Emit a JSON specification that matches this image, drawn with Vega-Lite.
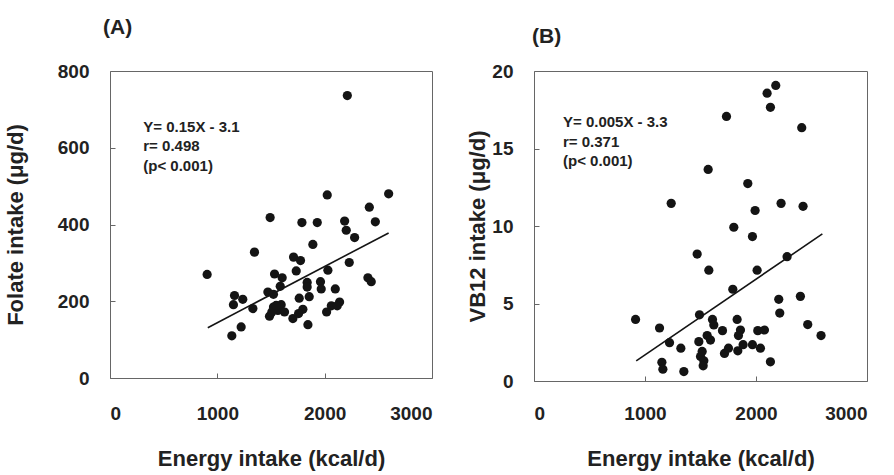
{
  "$schema": "https://vega.github.io/schema/vega-lite/v6.json",
  "background": "white",
  "padding": {"left": 3, "top": 16, "right": 3, "bottom": 2},
  "bounds": "flush",
  "spacing": 102,
  "config": {
    "font": "Liberation Sans",
    "view": {"stroke": "#666", "strokeWidth": 1},
    "axis": {
      "grid": false,
      "domain": false,
      "ticks": true,
      "tickSize": -5,
      "tickColor": "#666",
      "format": "d",
      "labelFont": "Liberation Sans",
      "labelFontWeight": "bold",
      "labelFontSize": 19,
      "labelColor": "#222",
      "titleFont": "Liberation Sans",
      "titleFontWeight": "bold",
      "titleFontSize": 22,
      "titleColor": "#222"
    },
    "title": {"font": "Liberation Sans", "fontWeight": "bold", "fontSize": 21, "color": "#222", "anchor": "start", "baseline": "bottom", "frame": "group"}
  },
  "datasets": {
    "a": [
      {"x": 905, "y": 270}, {"x": 2211, "y": 736}, {"x": 2024, "y": 477}, {"x": 2596, "y": 480},
      {"x": 2416, "y": 445}, {"x": 2472, "y": 407}, {"x": 1492, "y": 418}, {"x": 1788, "y": 405},
      {"x": 1931, "y": 405}, {"x": 2186, "y": 409}, {"x": 2201, "y": 385}, {"x": 2279, "y": 366},
      {"x": 1890, "y": 348}, {"x": 1346, "y": 328}, {"x": 1710, "y": 315}, {"x": 1775, "y": 306},
      {"x": 2229, "y": 301}, {"x": 1735, "y": 279}, {"x": 2030, "y": 281}, {"x": 1533, "y": 271},
      {"x": 1604, "y": 261}, {"x": 1837, "y": 249}, {"x": 1961, "y": 251}, {"x": 2403, "y": 261},
      {"x": 2434, "y": 251}, {"x": 1586, "y": 239}, {"x": 1837, "y": 237}, {"x": 1968, "y": 232},
      {"x": 2099, "y": 232}, {"x": 1471, "y": 224}, {"x": 1523, "y": 218}, {"x": 1160, "y": 215},
      {"x": 1237, "y": 205}, {"x": 1150, "y": 191}, {"x": 1763, "y": 208}, {"x": 1856, "y": 212},
      {"x": 1331, "y": 181}, {"x": 1523, "y": 185}, {"x": 1595, "y": 191}, {"x": 1564, "y": 176},
      {"x": 1626, "y": 172}, {"x": 1486, "y": 161}, {"x": 1704, "y": 155}, {"x": 1797, "y": 179},
      {"x": 1757, "y": 168}, {"x": 2062, "y": 188}, {"x": 2139, "y": 198}, {"x": 2117, "y": 188},
      {"x": 2018, "y": 172}, {"x": 1844, "y": 139}, {"x": 1222, "y": 133}, {"x": 1135, "y": 110},
      {"x": 1508, "y": 172}, {"x": 1548, "y": 189}
    ],
    "a_line": [{"x": 911, "y": 131}, {"x": 2596, "y": 378}],
    "a_text": [
      {"x": 310, "y": 655, "label": "Y= 0.15X - 3.1"},
      {"x": 310, "y": 605, "label": "r= 0.498"},
      {"x": 310, "y": 553, "label": "(p< 0.001)"}
    ],
    "b": [
      {"x": 915, "y": 3.97}, {"x": 1131, "y": 3.42}, {"x": 1152, "y": 1.21}, {"x": 1161, "y": 0.76},
      {"x": 1221, "y": 2.47}, {"x": 1236, "y": 11.46}, {"x": 1323, "y": 2.12}, {"x": 1350, "y": 0.61},
      {"x": 1470, "y": 8.19}, {"x": 1491, "y": 4.27}, {"x": 1485, "y": 2.54}, {"x": 1500, "y": 1.58},
      {"x": 1515, "y": 1.91}, {"x": 1530, "y": 1.30}, {"x": 1524, "y": 0.98}, {"x": 1560, "y": 2.93},
      {"x": 1575, "y": 7.15}, {"x": 1569, "y": 13.65}, {"x": 1590, "y": 2.64}, {"x": 1608, "y": 3.97},
      {"x": 1620, "y": 3.62}, {"x": 1698, "y": 3.25}, {"x": 1716, "y": 1.78}, {"x": 1752, "y": 2.12},
      {"x": 1734, "y": 17.07}, {"x": 1791, "y": 5.92}, {"x": 1800, "y": 9.92}, {"x": 1830, "y": 3.97},
      {"x": 1860, "y": 3.29}, {"x": 1842, "y": 2.93}, {"x": 1836, "y": 1.95}, {"x": 1884, "y": 2.34},
      {"x": 1926, "y": 12.74}, {"x": 1968, "y": 9.32}, {"x": 1968, "y": 2.34}, {"x": 1992, "y": 11.0},
      {"x": 2010, "y": 7.15}, {"x": 2016, "y": 3.25}, {"x": 2040, "y": 2.12}, {"x": 2076, "y": 3.29},
      {"x": 2100, "y": 18.57}, {"x": 2130, "y": 17.66}, {"x": 2178, "y": 19.07}, {"x": 2130, "y": 1.24},
      {"x": 2205, "y": 5.27}, {"x": 2214, "y": 4.38}, {"x": 2226, "y": 11.46}, {"x": 2280, "y": 8.02},
      {"x": 2400, "y": 5.46}, {"x": 2412, "y": 16.34}, {"x": 2424, "y": 11.27}, {"x": 2466, "y": 3.64},
      {"x": 2586, "y": 2.93}
    ],
    "b_line": [{"x": 921, "y": 1.3}, {"x": 2598, "y": 9.49}],
    "b_text": [
      {"x": 261, "y": 16.74, "label": "Y= 0.005X - 3.3"},
      {"x": 261, "y": 15.44, "label": "r= 0.371"},
      {"x": 261, "y": 14.2, "label": "(p< 0.001)"}
    ]
  },
  "hconcat": [
    {
      "width": 322,
      "height": 307,
      "title": {"text": "(A)", "dx": -7, "offset": 24},
      "layer": [
        {
          "data": {"name": "a"},
          "mark": {"type": "point", "filled": true, "size": 85, "color": "#141414", "opacity": 1},
          "encoding": {
            "x": {"field": "x", "type": "quantitative", "scale": {"domain": [0, 3000], "nice": false},
              "axis": {"values": [0, 1000, 2000, 3000], "labelPadding": 31, "title": "Energy intake (kcal/d)", "titleY": 87, "titleBaseline": "alphabetic"}},
            "y": {"field": "y", "type": "quantitative", "scale": {"domain": [0, 800], "nice": false},
              "axis": {"values": [0, 200, 400, 600, 800], "labelPadding": 26, "title": "Folate intake (\u03bcg/d)", "titleX": -95, "titleBaseline": "middle"}}
          }
        },
        {
          "data": {"name": "a_line"},
          "mark": {"type": "line", "color": "#141414", "strokeWidth": 1.6},
          "encoding": {"x": {"field": "x", "type": "quantitative"}, "y": {"field": "y", "type": "quantitative"}}
        },
        {
          "data": {"name": "a_text"},
          "mark": {"type": "text", "align": "left", "baseline": "middle", "fontSize": 15, "fontWeight": "bold", "font": "Liberation Sans", "color": "#222"},
          "encoding": {"x": {"field": "x", "type": "quantitative"}, "y": {"field": "y", "type": "quantitative"}, "text": {"field": "label"}}
        }
      ]
    },
    {
      "width": 333,
      "height": 310,
      "title": {"text": "(B)", "dx": -2, "offset": 15},
      "layer": [
        {
          "data": {"name": "b"},
          "mark": {"type": "point", "filled": true, "size": 85, "color": "#141414", "opacity": 1},
          "encoding": {
            "x": {"field": "x", "type": "quantitative", "scale": {"domain": [0, 3000], "nice": false},
              "axis": {"values": [0, 1000, 2000, 3000], "labelPadding": 28, "title": "Energy intake (kcal/d)", "titleY": 84, "titleBaseline": "alphabetic"}},
            "y": {"field": "y", "type": "quantitative", "scale": {"domain": [0, 20], "nice": false},
              "axis": {"values": [0, 5, 10, 15, 20], "labelPadding": 26, "title": "VB12 intake (\u03bcg/d)", "titleX": -57, "titleBaseline": "middle"}}
          }
        },
        {
          "data": {"name": "b_line"},
          "mark": {"type": "line", "color": "#141414", "strokeWidth": 1.6},
          "encoding": {"x": {"field": "x", "type": "quantitative"}, "y": {"field": "y", "type": "quantitative"}}
        },
        {
          "data": {"name": "b_text"},
          "mark": {"type": "text", "align": "left", "baseline": "middle", "fontSize": 15, "fontWeight": "bold", "font": "Liberation Sans", "color": "#222"},
          "encoding": {"x": {"field": "x", "type": "quantitative"}, "y": {"field": "y", "type": "quantitative"}, "text": {"field": "label"}}
        }
      ]
    }
  ]
}
